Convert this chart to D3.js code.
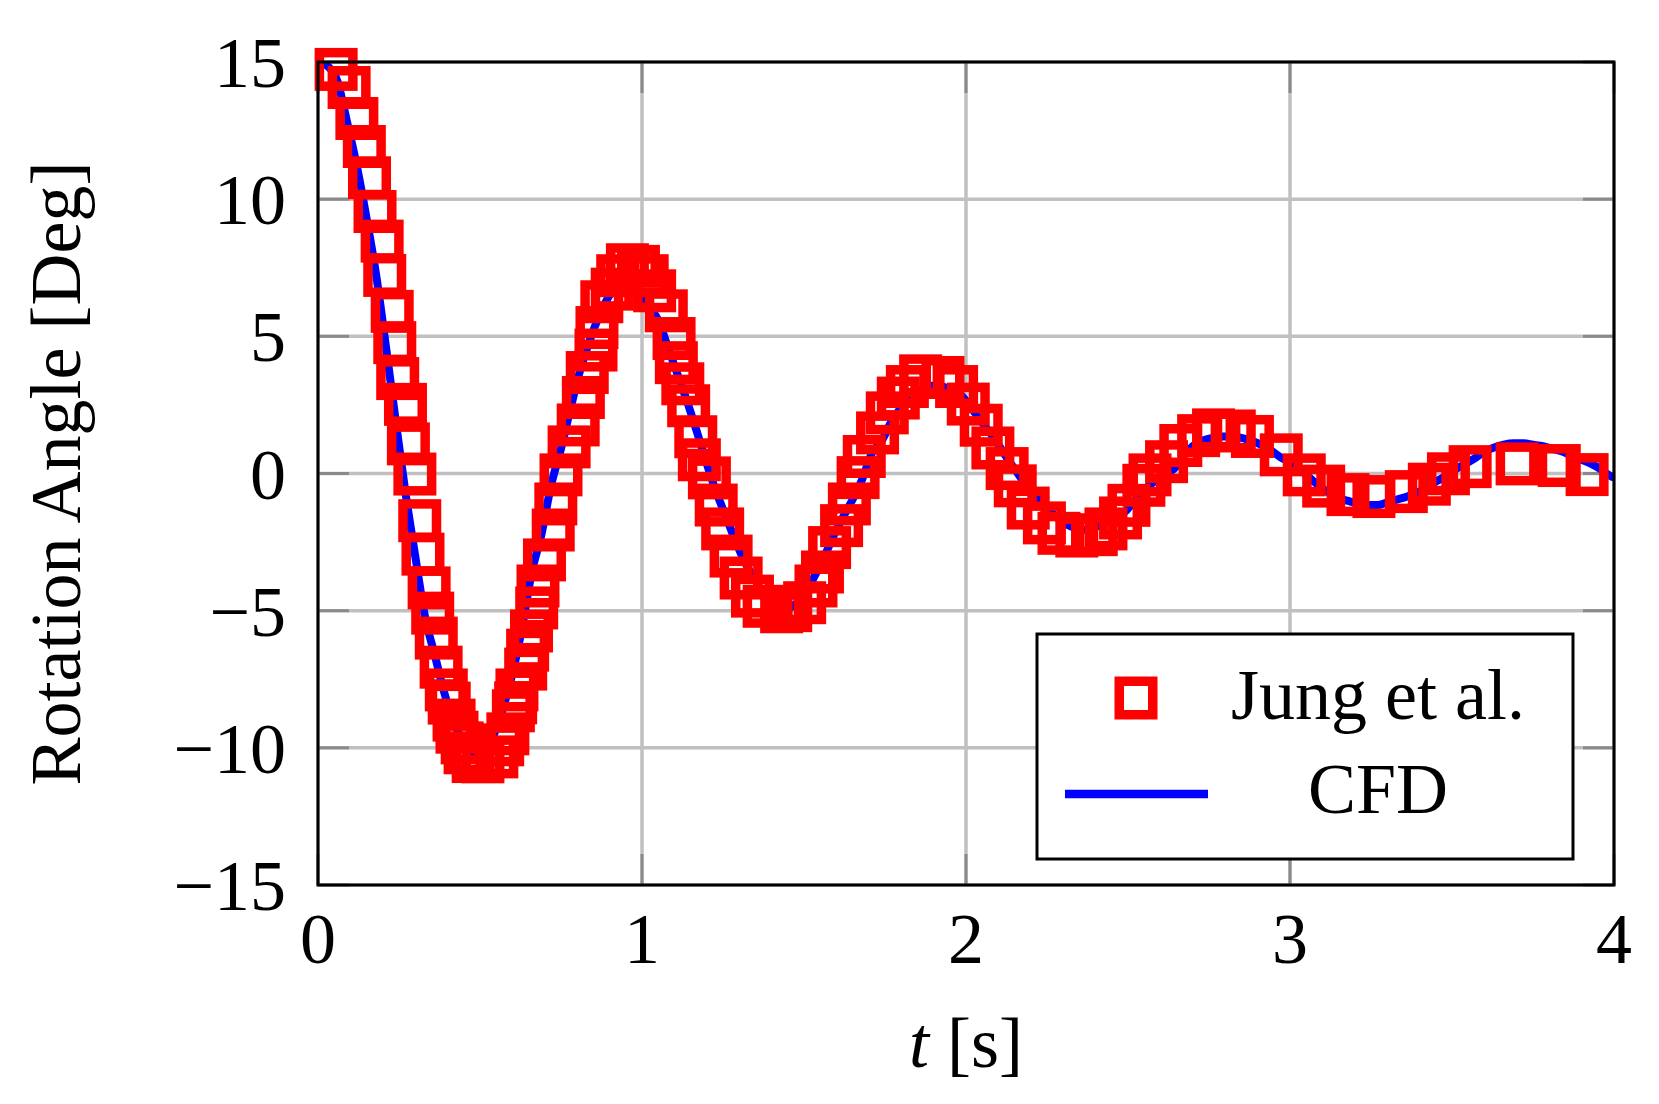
<!DOCTYPE html>
<html>
<head>
<meta charset="utf-8">
<script src="https://cdn.jsdelivr.net/npm/d3@7"></script>
<style>
	body { margin: 0; background: #fff; }
	svg text { font-family: "Liberation Serif", "Times New Roman", serif; fill: #000; }
</style>
</head>
<body>
<svg></svg>
<script>
// damped rotation test: Jung et al. experiment vs CFD

// CFD curve
const cfdTime = [0.00, 0.03, 0.06, 0.09, 0.12, 0.15, 0.18, 0.21, 0.24, 0.27, 0.30, 0.33, 0.36, 0.39, 0.42, 0.45, 0.48, 0.51, 0.54, 0.57,
	0.60, 0.63, 0.66, 0.69, 0.72, 0.75, 0.78, 0.81, 0.84, 0.87, 0.90, 0.93, 0.96, 0.99, 1.02, 1.05, 1.08, 1.11, 1.14, 1.17,
	1.20, 1.23, 1.26, 1.29, 1.32, 1.35, 1.38, 1.41, 1.44, 1.47, 1.50, 1.53, 1.56, 1.59, 1.62, 1.65, 1.68, 1.71, 1.74, 1.77,
	1.80, 1.83, 1.86, 1.89, 1.92, 1.95, 1.98, 2.01, 2.04, 2.07, 2.10, 2.13, 2.16, 2.19, 2.22, 2.25, 2.28, 2.31, 2.34, 2.37,
	2.40, 2.43, 2.46, 2.49, 2.52, 2.55, 2.58, 2.61, 2.64, 2.67, 2.70, 2.73, 2.76, 2.79, 2.82, 2.85, 2.88, 2.91, 2.94, 2.97,
	3.00, 3.03, 3.06, 3.09, 3.12, 3.15, 3.18, 3.21, 3.24, 3.27, 3.30, 3.33, 3.36, 3.39, 3.42, 3.45, 3.48, 3.51, 3.54, 3.57,
	3.60, 3.63, 3.66, 3.69, 3.72, 3.75, 3.78, 3.81, 3.84, 3.87, 3.90, 3.93, 3.96, 3.99, 4.00]
const cfdAngle = [15.0, 14.85, 14.3, 12.8, 11.2, 9.3, 7.2, 4.6, 1.9, -0.7, -3.0, -5.2, -6.6, -8.0, -9.1, -9.8, -10.2, -10.2, -9.6, -8.6,
	-7.3, -5.6, -3.6, -2.2, -0.4, 0.9, 2.4, 3.8, 4.9, 5.8, 6.5, 6.9, 7.0, 6.7, 6.1, 5.6, 4.6, 3.6, 2.6, 1.5,
	0.35, -0.7, -1.6, -2.5, -3.3, -3.9, -4.5, -4.8, -4.95, -4.8, -4.4, -3.8, -3.1, -2.3, -1.6, -0.95, -0.2, 0.75, 1.2, 1.9,
	2.4, 2.75, 3.05, 3.2, 3.2, 3.05, 2.9, 2.5, 2.0, 1.55, 1.05, 0.5, 0.0, -0.5, -0.9, -1.25, -1.6, -1.85, -2.0, -2.05,
	-1.95, -1.8, -1.6, -1.4, -1.0, -0.6, -0.3, -0.05, 0.15, 0.6, 1.0, 1.2, 1.3, 1.35, 1.35, 1.3, 1.2, 1.05, 0.85, 0.6,
	0.4, 0.15, -0.15, -0.45, -0.7, -0.9, -1.0, -1.1, -1.15, -1.15, -1.05, -0.95, -0.85, -0.7, -0.55, -0.3, -0.1, 0.15, 0.35, 0.55,
	0.8, 0.95, 1.05, 1.1, 1.1, 1.05, 1.0, 0.9, 0.8, 0.65, 0.5, 0.35, 0.15, -0.1, -0.15]

// Jung et al. measured points
const jungTime = [0.056, 0.096, 0.120, 0.143, 0.159, 0.176, 0.198, 0.206, 0.229, 0.237, 0.246, 0.270, 0.279, 0.299, 0.314, 0.324, 0.343, 0.354, 0.365, 0.380,
	0.396, 0.405, 0.420, 0.429, 0.445, 0.454, 0.479, 0.509, 0.552, 0.570, 0.586, 0.603, 0.610, 0.614, 0.641, 0.647, 0.659, 0.675, 0.679, 0.699,
	0.726, 0.734, 0.750, 0.775, 0.803, 0.819, 0.831, 0.858, 0.861, 0.876, 0.908, 0.925, 0.955, 0.989, 1.016, 1.039, 1.075, 1.099, 1.106, 1.126,
	1.144, 1.166, 1.177, 1.208, 1.229, 1.249, 1.275, 1.306, 1.341, 1.377, 1.431, 1.459, 1.502, 1.537, 1.557, 1.579, 1.616, 1.640, 1.667, 1.686,
	1.727, 1.757, 1.791, 1.819, 1.860, 1.929, 1.971, 2.007, 2.047, 2.083, 2.127, 2.152, 2.192, 2.242, 2.287, 2.342, 2.402, 2.432, 2.477, 2.503,
	2.549, 2.568, 2.619, 2.663, 2.718, 2.764, 2.828, 2.884, 2.973, 3.044, 3.104, 3.179, 3.259, 3.359, 3.430, 3.489, 3.556, 3.701, 3.831, 3.917]
const jungAngle = [14.73, 14.07, 12.94, 11.92, 10.78, 9.55, 8.47, 7.22, 5.91, 4.77, 3.46, 2.52, 1.08, -0.02, -1.72, -2.94, -4.17, -5.09, -6.00, -7.06,
	-7.89, -8.37, -8.99, -9.43, -9.82, -10.18, -10.50, -10.51, -10.33, -9.89, -9.49, -8.65, -8.36, -7.89, -7.13, -6.44, -5.74, -4.90, -4.10, -3.15,
	-2.06, -1.11, -0.05, 0.97, 1.77, 2.77, 3.68, 4.50, 5.32, 6.26, 6.72, 7.21, 7.61, 7.55, 7.21, 6.66, 5.93, 4.92, 4.04, 3.27,
	2.47, 1.34, 0.50, -0.16, -1.15, -2.02, -3.01, -3.81, -4.47, -4.84, -5.04, -5.00, -4.71, -4.10, -3.59, -2.70, -1.90, -1.11, -0.15, 0.62,
	1.48, 2.21, 2.75, 3.17, 3.56, 3.50, 3.17, 2.53, 1.76, 0.93, 0.18, -0.45, -1.26, -1.80, -2.18, -2.28, -2.23, -2.02, -1.62, -1.16,
	-0.43, -0.05, 0.43, 1.02, 1.38, 1.59, 1.55, 1.35, 0.68, -0.05, -0.46, -0.77, -0.84, -0.66, -0.39, -0.01, 0.25, 0.35, 0.29, -0.04]

const xTicks = [0, 1, 2, 3, 4]
const xTickLabels = ["0", "1", "2", "3", "4"]
const yTicks = [-15, -10, -5, 0, 5, 10, 15]
const yTickLabels = ["\u221215", "\u221210", "\u22125", "0", "5", "10", "15"]
const legendLabels = ["Jung et al.", "CFD"]

const width = 1659
const height = 1104
const plot = {left: 318, right: 1614, top: 62, bottom: 885}
const fontSize = 72
const tickLen = 31
const markSide = 33.5
const markStroke = 9.5

const svg = d3.select("svg")
svg
	.attr("width", width)
	.attr("height", height)

svg.append("rect")
	.attr("width", width)
	.attr("height", height)
	.attr("fill", "#fff")

const scaleX = d3.scaleLinear()
	.domain([0, 4])
	.range([plot.left, plot.right])

const scaleY = d3.scaleLinear()
	.domain([-15, 15])
	.range([plot.bottom, plot.top])

// grid
const grid = svg.append("g").attr("class", "grid")
grid.selectAll("line.gx")
	.data(xTicks)
	.enter()
	.append("line")
	.attr("class", "gx")
	.attr("x1", d => scaleX(d))
	.attr("x2", d => scaleX(d))
	.attr("y1", plot.top)
	.attr("y2", plot.bottom)
grid.selectAll("line.gy")
	.data(yTicks)
	.enter()
	.append("line")
	.attr("class", "gy")
	.attr("x1", plot.left)
	.attr("x2", plot.right)
	.attr("y1", d => scaleY(d))
	.attr("y2", d => scaleY(d))
grid.selectAll("line")
	.attr("stroke", "#c0c0c0")
	.attr("stroke-width", 3.5)

// ticks pointing inwards, on all four sides
const ticks = svg.append("g").attr("class", "ticks")
xTicks.forEach(d => {
	ticks.append("line").attr("x1", scaleX(d)).attr("x2", scaleX(d)).attr("y1", plot.bottom).attr("y2", plot.bottom - tickLen)
	ticks.append("line").attr("x1", scaleX(d)).attr("x2", scaleX(d)).attr("y1", plot.top).attr("y2", plot.top + tickLen)
})
yTicks.forEach(d => {
	ticks.append("line").attr("x1", plot.left).attr("x2", plot.left + tickLen).attr("y1", scaleY(d)).attr("y2", scaleY(d))
	ticks.append("line").attr("x1", plot.right).attr("x2", plot.right - tickLen).attr("y1", scaleY(d)).attr("y2", scaleY(d))
})
ticks.selectAll("line")
	.attr("stroke", "#8a8a8a")
	.attr("stroke-width", 3)

// CFD line, clipped to the axis box
svg.append("clipPath")
	.attr("id", "plotclip")
	.append("rect")
	.attr("x", plot.left)
	.attr("y", plot.top)
	.attr("width", plot.right - plot.left)
	.attr("height", plot.bottom - plot.top)

const cfd = cfdTime.map((t, i) => ({t: t, a: cfdAngle[i]}))
const line = d3.line()
	.x(d => scaleX(d.t))
	.y(d => scaleY(d.a))
	.curve(d3.curveMonotoneX)

svg.append("path")
	.datum(cfd)
	.attr("clip-path", "url(#plotclip)")
	.attr("d", line)
	.attr("fill", "none")
	.attr("stroke", "#0000ff")
	.attr("stroke-width", 8)
	.attr("stroke-linejoin", "round")

// experiment markers (not clipped)
const jung = jungTime.map((t, i) => ({t: t, a: jungAngle[i]}))
svg.selectAll("rect.jung")
	.data(jung)
	.enter()
	.append("rect")
	.attr("class", "jung")
	.attr("x", d => scaleX(d.t) - markSide / 2)
	.attr("y", d => scaleY(d.a) - markSide / 2)
	.attr("width", markSide)
	.attr("height", markSide)
	.attr("fill", "none")
	.attr("stroke", "#ff0000")
	.attr("stroke-width", markStroke)

// axis frame
svg.append("rect")
	.attr("x", plot.left)
	.attr("y", plot.top)
	.attr("width", plot.right - plot.left)
	.attr("height", plot.bottom - plot.top)
	.attr("fill", "none")
	.attr("stroke", "#000")
	.attr("stroke-width", 3)

// tick labels
svg.selectAll("text.xt")
	.data(xTicks)
	.enter()
	.append("text")
	.attr("class", "xt")
	.attr("x", d => scaleX(d))
	.attr("y", 963)
	.attr("text-anchor", "middle")
	.attr("font-size", fontSize)
	.text((d, i) => xTickLabels[i])

svg.selectAll("text.yt")
	.data(yTicks)
	.enter()
	.append("text")
	.attr("class", "yt")
	.attr("x", 286)
	.attr("y", d => scaleY(d) + 25)
	.attr("text-anchor", "end")
	.attr("font-size", fontSize)
	.text((d, i) => yTickLabels[i])

// axis titles
const xTitle = svg.append("text")
	.attr("x", (plot.left + plot.right) / 2)
	.attr("y", 1067)
	.attr("text-anchor", "middle")
	.attr("font-size", fontSize)
xTitle.append("tspan").attr("font-style", "italic").text("t")
xTitle.append("tspan").text(" [s]")

svg.append("text")
	.attr("transform", `translate(80,${(plot.top + plot.bottom) / 2}) rotate(-90)`)
	.attr("text-anchor", "middle")
	.attr("font-size", fontSize)
	.text("Rotation Angle [Deg]")

// legend
const legend = svg.append("g").attr("class", "legend")
legend.append("rect")
	.attr("x", 1037)
	.attr("y", 634)
	.attr("width", 536)
	.attr("height", 225)
	.attr("fill", "#fff")
	.attr("stroke", "#000")
	.attr("stroke-width", 3)

legend.append("rect")
	.attr("x", 1136 - markSide / 2)
	.attr("y", 698 - markSide / 2)
	.attr("width", markSide)
	.attr("height", markSide)
	.attr("fill", "none")
	.attr("stroke", "#ff0000")
	.attr("stroke-width", markStroke)

legend.append("line")
	.attr("x1", 1065)
	.attr("x2", 1208)
	.attr("y1", 794)
	.attr("y2", 794)
	.attr("stroke", "#0000ff")
	.attr("stroke-width", 8.5)

legend.selectAll("text")
	.data(legendLabels)
	.enter()
	.append("text")
	.attr("x", 1378)
	.attr("y", (d, i) => [719, 813][i])
	.attr("text-anchor", "middle")
	.attr("font-size", fontSize)
	.text(d => d)
</script>
</body>
</html>
